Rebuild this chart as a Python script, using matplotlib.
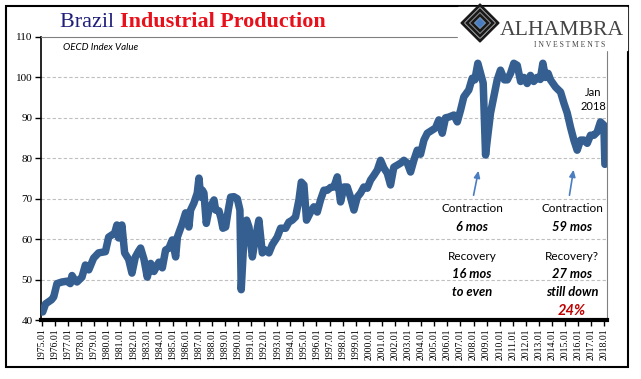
import matplotlib.pyplot as plt
import matplotlib.patches as mpatches

# OECD index value (fractional year, value)
years = [1975.0, 1975.08, 1975.3, 1975.53, 1975.75, 1975.92, 1976.17, 1976.55, 1976.93, 1977.19,
         1977.32, 1977.5, 1977.7, 1978.08, 1978.34, 1978.6, 1978.97, 1979.35, 1979.87, 1980.12,
         1980.58, 1980.75, 1980.88, 1981.13, 1981.34, 1981.65, 1981.9, 1982.16, 1982.4, 1982.56,
         1982.82, 1983.07, 1983.33, 1983.58, 1983.96, 1984.22, 1984.47, 1984.73, 1984.98, 1985.24,
         1985.37, 1985.75, 1986.0, 1986.25, 1986.38, 1986.63, 1986.89, 1987.02, 1987.15, 1987.28,
         1987.4, 1987.58, 1987.78, 1988.17, 1988.29, 1988.55, 1988.7, 1988.85, 1989.06, 1989.26,
         1989.44, 1989.69, 1989.95, 1990.15, 1990.25, 1990.46, 1990.66, 1990.84, 1991.1, 1991.35,
         1991.6, 1991.86, 1992.11, 1992.37, 1992.62, 1993.0, 1993.26, 1993.64, 1993.89, 1994.15,
         1994.4, 1994.66, 1994.84, 1995.04, 1995.24, 1995.55, 1995.8, 1996.06, 1996.31, 1996.57,
         1996.83, 1997.08, 1997.33, 1997.59, 1997.84, 1998.1, 1998.35, 1998.6, 1998.86, 1999.12,
         1999.37, 1999.62, 1999.88, 2000.13, 2000.39, 2000.65, 2000.9, 2001.15, 2001.41, 2001.66,
         2001.91, 2002.17, 2002.43, 2002.68, 2002.94, 2003.19, 2003.44, 2003.7, 2003.95, 2004.21,
         2004.47, 2004.85, 2005.1, 2005.35, 2005.61, 2005.86, 2006.12, 2006.5, 2006.76, 2007.01,
         2007.26, 2007.64, 2007.9, 2008.1, 2008.33, 2008.54, 2008.74, 2008.92, 2009.05, 2009.3,
         2009.55, 2009.81, 2010.06, 2010.36, 2010.58, 2010.83, 2011.08, 2011.34, 2011.6, 2011.85,
         2012.1, 2012.35, 2012.6, 2012.85, 2013.1, 2013.3, 2013.5, 2013.7, 2013.88, 2014.27,
         2014.65, 2014.9, 2015.16, 2015.41, 2015.67, 2015.92, 2016.18, 2016.43, 2016.69, 2016.94,
         2017.2, 2017.45, 2017.7, 2017.96, 2018.04]
values = [42.0, 42.0, 44.0, 44.5, 45.0, 45.7, 49.0, 49.4, 49.6, 49.0,
          51.0, 50.0, 49.4, 50.6, 53.6, 52.4, 55.3, 56.6, 56.9, 60.5,
          61.5, 63.5, 60.3, 63.5, 56.6, 55.0, 51.6, 55.6, 57.0, 57.8,
          55.0, 50.6, 54.0, 52.0, 54.3, 52.9, 57.3, 57.8, 59.8, 55.6,
          60.5, 63.9, 66.5, 63.0, 67.2, 68.9, 71.4, 75.1, 70.4, 72.1,
          71.4, 63.9, 67.2, 69.7, 67.2, 67.0, 65.2, 62.7, 63.0, 67.2,
          70.4, 70.5, 70.0, 67.2, 47.5, 60.5, 64.7, 63.0, 55.6, 60.5,
          64.7, 56.6, 57.3, 56.6, 58.6, 60.5, 62.7, 62.7, 64.2, 64.7,
          65.5, 69.7, 74.1, 73.4, 64.7, 66.7, 68.0, 66.7, 69.7, 72.1,
          72.1, 72.8, 72.9, 75.4, 69.2, 72.9, 72.9, 70.4, 67.2, 70.4,
          71.4, 72.9, 72.6, 74.6, 75.8, 77.1, 79.5, 77.6, 76.3, 73.4,
          77.8, 78.3, 78.8, 79.5, 78.8, 76.6, 79.5, 82.0, 81.0, 84.5,
          86.2, 87.0, 87.5, 89.5, 86.2, 90.0, 90.2, 90.7, 89.0, 91.9,
          95.2, 96.9, 99.8, 99.4, 103.5, 101.0, 98.6, 80.8, 84.5, 91.2,
          95.2, 99.4, 101.8, 99.4, 99.4, 101.0, 103.5, 103.0, 99.0, 100.0,
          98.5, 100.5, 99.0, 100.0, 99.5, 103.5, 100.0, 101.0, 99.4, 97.6,
          96.4, 93.7, 91.2, 87.7, 84.5, 82.0, 84.5, 84.5, 83.7, 85.7,
          85.7, 86.5, 89.0, 88.2, 78.5]

tick_years = list(range(1975, 2019))
tick_labels = [f'{y}.01' for y in tick_years]
y_ticks = [40, 50, 60, 70, 80, 90, 100, 110]

W, H = 641, 379


def fx(x):
    return x / W


def fy(y):
    return 1 - y / H


fig = plt.figure(figsize=(W / 100, H / 100), dpi=100)
ax = fig.add_axes([fx(41), fy(320), fx(607) - fx(41), fy(37) - fy(320)])

ax.plot(years, values, color='#365F91', lw=5.4, solid_capstyle='round', solid_joinstyle='round', zorder=3)

ax.set_xlim(1974.95, 2018.2)
ax.set_ylim(40, 110)
ax.set_yticks(y_ticks)
ax.set_yticklabels([str(v) for v in y_ticks], family='Liberation Serif', fontsize=8)
ax.set_xticks(tick_years)
ax.set_xticklabels(tick_labels, rotation=90, family='Liberation Serif', fontsize=7)
ax.tick_params(axis='x', length=4, width=1, pad=2)
ax.tick_params(axis='y', length=4, width=1, pad=2)

for v in y_ticks[1:-1]:
    ax.axhline(v, color='#BFBFBF', lw=0.8, ls=(0, (3, 2)), zorder=1)

ax.spines['bottom'].set_linewidth(3)
ax.spines['bottom'].set_color('black')
ax.spines['left'].set_linewidth(1.2)
ax.spines['left'].set_color('black')
ax.spines['top'].set_color('#808080')
ax.spines['right'].set_color('#808080')

# outer frame
fig.patches.append(mpatches.Rectangle((fx(6), fy(367)), fx(628) - fx(6), fy(6) - fy(367),
                                      transform=fig.transFigure, fill=False, ec='black', lw=1.5, zorder=5))

# title
t = fig.text(fx(60), fy(27), 'Brazil ', family='Liberation Serif', fontsize=15.9, color='#1F1F7A',
             va='baseline')
fig.canvas.draw()
bb = t.get_window_extent()
fig.text(bb.x1 / W, fy(27), 'Industrial Production', family='Liberation Serif', fontsize=15.9,
         fontweight='bold', color='#E8101A', va='baseline')

fig.text(fx(63), fy(47), 'OECD Index Value', family='Lato', style='italic', fontsize=7, va='center')

# logo
fig.patches.append(mpatches.Rectangle((fx(458), fy(50)), fx(627) - fx(458), fy(7) - fy(50),
                                      transform=fig.transFigure, color='white', zorder=6))
cx, cy = 480, 23


def diamond(r, **kw):
    pts = [(fx(cx), fy(cy - r)), (fx(cx + r), fy(cy)), (fx(cx), fy(cy + r)), (fx(cx - r), fy(cy))]
    return mpatches.Polygon(pts, closed=True, transform=fig.transFigure, **kw)


fig.patches.append(diamond(19, color='#1A1A1A', zorder=7))
fig.patches.append(diamond(15, color='white', zorder=7))
fig.patches.append(diamond(13, fill=False, ec='#1A1A1A', lw=2.2, zorder=7))
fig.patches.append(diamond(8, fill=False, ec='#1A1A1A', lw=2.2, zorder=7))
fig.patches.append(diamond(4.5, color='#4A7CC0', zorder=8))
fig.text(fx(500), fy(35), 'ALHAMBRA', family='Liberation Serif', fontsize=15.6, color='#444444',
         va='baseline', zorder=8)
fig.text(fx(570), fy(47), 'I N V E S T M E N T S', family='Liberation Serif', fontsize=5.5,
         color='#444444', va='baseline', ha='center', zorder=8)

# annotations
reg = dict(family='Lato', fontsize=8.5, ha='center', va='center', color='black')
bi = dict(family='Lato', fontsize=9.3, ha='center', va='center', color='black',
          fontweight='bold', style='italic')
fig.text(fx(472), fy(209), 'Contraction', **reg)
fig.text(fx(472), fy(227), '6 mos', **bi)
fig.text(fx(472), fy(257), 'Recovery', **reg)
fig.text(fx(472), fy(274), '16 mos', **bi)
fig.text(fx(472), fy(292), 'to even', **bi)
fig.text(fx(572), fy(209), 'Contraction', **reg)
fig.text(fx(572), fy(227), '59 mos', **bi)
fig.text(fx(572), fy(257), 'Recovery?', **reg)
fig.text(fx(572), fy(274), '27 mos', **bi)
fig.text(fx(572), fy(292), 'still down', **bi)
fig.text(fx(572), fy(311), '24%', **dict(bi, color='#C00000', fontsize=10.5))
fig.text(fx(593), fy(93), 'Jan', family='Lato', fontsize=8, ha='center', va='center')
fig.text(fx(593), fy(106), '2018', family='Lato', fontsize=8, ha='center', va='center')

arrow = dict(arrowstyle='-|>,head_length=0.4,head_width=0.18', color='#4A7EC0', lw=1.2)
ax.annotate('', xy=(fx(479), fy(168)), xytext=(fx(473), fy(198)),
            xycoords='figure fraction', textcoords='figure fraction', arrowprops=arrow)
ax.annotate('', xy=(fx(574), fy(167)), xytext=(fx(569), fy(198)),
            xycoords='figure fraction', textcoords='figure fraction', arrowprops=arrow)

fig.savefig('out.png', dpi=100)
